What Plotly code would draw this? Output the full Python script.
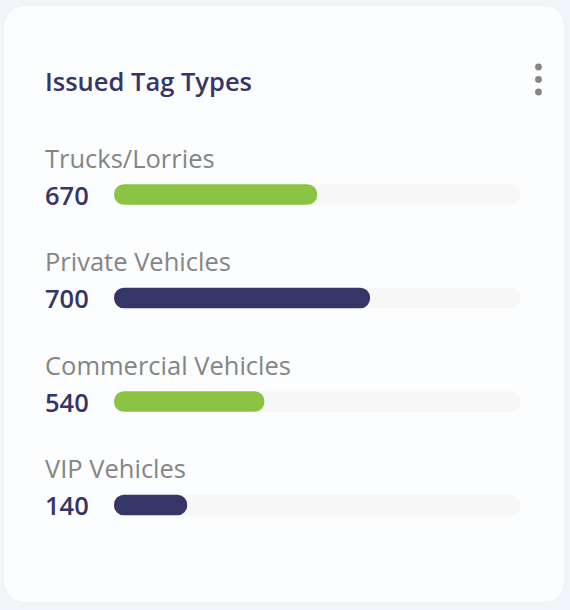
import plotly.graph_objects as go

# ---- data ----
categories = ["Trucks/Lorries", "Private Vehicles", "Commercial Vehicles", "VIP Vehicles"]
counts = [670, 700, 540, 140]
fill_pct = [50, 63, 37, 18]
bar_colors = ["#8BC443", "#363567", "#8BC443", "#363567"]
track_max = [100, 100, 100, 100]
start = [0, 0, 0, 0]
title_text = "Issued Tag Types"

W, H = 570, 610
NAVY = "#363567"
FONT = "Open Sans"

def px(x):
    return x / W

def py(y):
    return 1 - y / H

fig = go.Figure()
# explicit base -> plotly rounds both ends of each (floating) bar
fig.add_trace(go.Bar(
    y=categories, x=track_max, base=start, orientation="h",
    marker=dict(color="#F7F7F8", line=dict(width=0)),
    width=0.2, hoverinfo="skip", showlegend=False,
))
fig.add_trace(go.Bar(
    y=categories, x=fill_pct, base=start, orientation="h",
    marker=dict(color=bar_colors, line=dict(width=0)),
    width=0.2, customdata=counts,
    hovertemplate="%{y}: %{customdata}<extra></extra>", showlegend=False,
))

# card background (rounded rectangle)
x0, x1, y0, y1, r = 3.5, 565, 5, 603, 24
rx, ry = r / W, r / H
X0, X1, Y0, Y1 = px(x0), px(x1), py(y0), py(y1)
card = (f"M {X0+rx},{Y0} L {X1-rx},{Y0} Q {X1},{Y0} {X1},{Y0-ry} "
        f"L {X1},{Y1+ry} Q {X1},{Y1} {X1-rx},{Y1} "
        f"L {X0+rx},{Y1} Q {X0},{Y1} {X0},{Y1+ry} "
        f"L {X0},{Y0-ry} Q {X0},{Y0} {X0+rx},{Y0} Z")
shapes = [dict(type="path", path=card, xref="paper", yref="paper",
               fillcolor="#FCFDFE", line=dict(color="#ECEEF4", width=1), layer="below")]
# menu dots
for cy in [67, 79.5, 92]:
    cx, rr = 538.5, 3.4
    shapes.append(dict(type="circle", xref="paper", yref="paper",
                       x0=px(cx - rr), x1=px(cx + rr), y0=py(cy + rr), y1=py(cy - rr),
                       fillcolor="#858585", line=dict(width=0)))

annotations = [dict(text=title_text, x=px(43), y=py(81), xref="paper", yref="paper",
                    xanchor="left", yanchor="middle", showarrow=False,
                    font=dict(family=FONT, size=25.5, color=NAVY, weight=600))]
for cat, cnt in zip(categories, counts):
    annotations.append(dict(text=cat, x=px(43), y=cat, xref="paper", yref="y",
                            xanchor="left", yanchor="middle", yshift=37, showarrow=False,
                            font=dict(family=FONT, size=25.5, color="#858585")))
    annotations.append(dict(text=str(cnt), x=px(43), y=cat, xref="paper", yref="y",
                            xanchor="left", yanchor="middle", yshift=0, showarrow=False,
                            font=dict(family=FONT, size=25.5, color=NAVY, weight=600)))

top, bottom = 142.75, 556.75
fig.update_layout(
    width=W, height=H, margin=dict(l=0, r=0, t=0, b=0),
    paper_bgcolor="#F4F5FA", plot_bgcolor="rgba(0,0,0,0)",
    barmode="overlay", barcornerradius="50%",
    xaxis=dict(domain=[px(114), px(520.5)], range=[0, 100], visible=False, fixedrange=True),
    yaxis=dict(domain=[py(bottom), py(top)], range=[3.5, -0.5], type="category",
               categoryorder="array", categoryarray=categories, visible=False, fixedrange=True),
    shapes=shapes, annotations=annotations,
    font=dict(family=FONT),
)
fig.write_html("out.html", config={"displayModeBar": False})
